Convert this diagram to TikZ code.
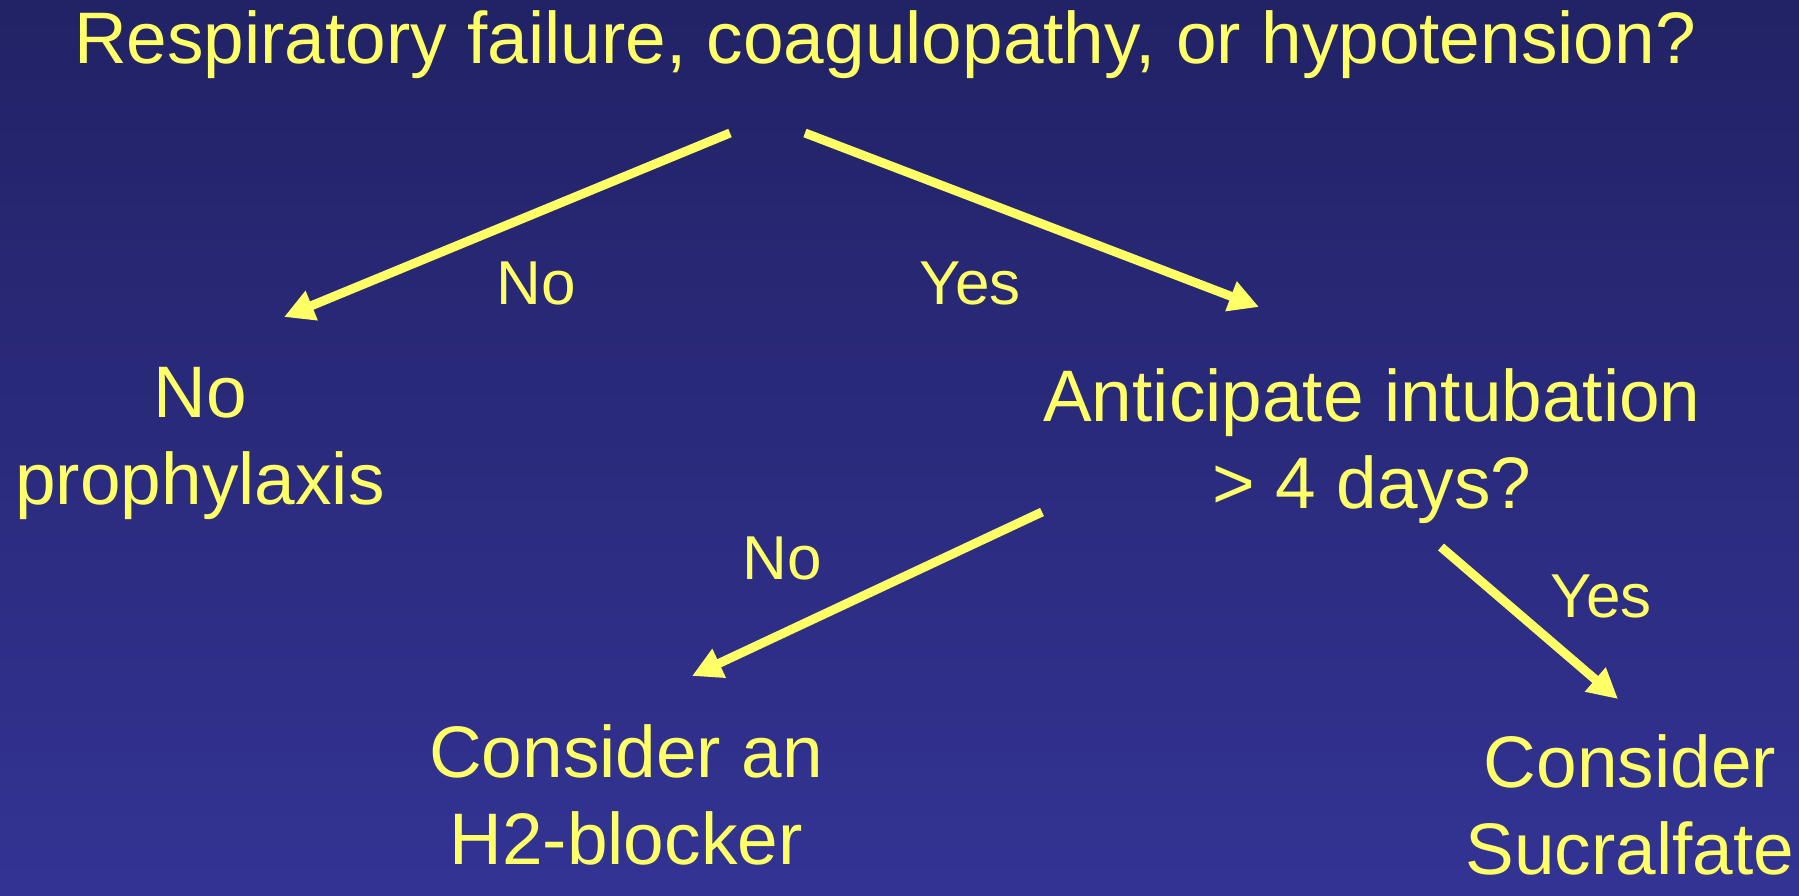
\documentclass[tikz,border=0pt]{standalone}
\usepackage{fontspec}
\setmainfont{Liberation Sans}
\usetikzlibrary{arrows.meta}
\definecolor{bgtop}{RGB}{34,34,102}
\definecolor{bgbot}{RGB}{51,51,148}
\definecolor{ylw}{RGB}{255,255,102}
\tikzset{
  big/.style={text=ylw, font=\fontsize{73}{87}\selectfont, align=center, inner sep=0pt, anchor=base},
  lbl/.style={text=ylw, font=\fontsize{62}{74}\selectfont, inner sep=0pt, anchor=base},
  arr/.style={draw=ylw, line width=9pt, -{Triangle[length=30pt,width=30pt]}}
}
\begin{document}
\begin{tikzpicture}[x=1pt,y=-1pt]
\shade[top color=bgtop, bottom color=bgbot] (0,0) rectangle (1799,895);
\useasboundingbox (0,0) rectangle (1799,895);
\node[big] (title) at (885,63) {Respiratory failure, coagulopathy, or hypotension?};
\node[big] (noproph) at (200,504) {No\\prophylaxis};
\node[big] (intub) at (1372,508) {Anticipate intubation\\> 4 days?};
\node[big] (h2) at (626,864) {Consider an\\H2-blocker};
\node[big] (sucr) at (1630,874) {Consider\\Sucralfate};
\node[lbl] (no1) at (536,304) {No};
\node[lbl] (yes1) at (970,304) {Yes};
\node[lbl] (no2) at (782,579) {No};
\node[lbl] (yes2) at (1601,617) {Yes};
\coordinate (t-l) at (730,133);
\coordinate (t-r) at (805,133);
\coordinate (np-in) at (284,317);
\coordinate (in-in) at (1259,307);
\coordinate (in-l) at (1042,512);
\coordinate (in-r) at (1441,547);
\coordinate (h2-in) at (692,676);
\coordinate (su-in) at (1618,699);
\draw[arr] (t-l) -- (np-in);
\draw[arr] (t-r) -- (in-in);
\draw[arr] (in-l) -- (h2-in);
\draw[arr] (in-r) -- (su-in);
\end{tikzpicture}
\end{document}
